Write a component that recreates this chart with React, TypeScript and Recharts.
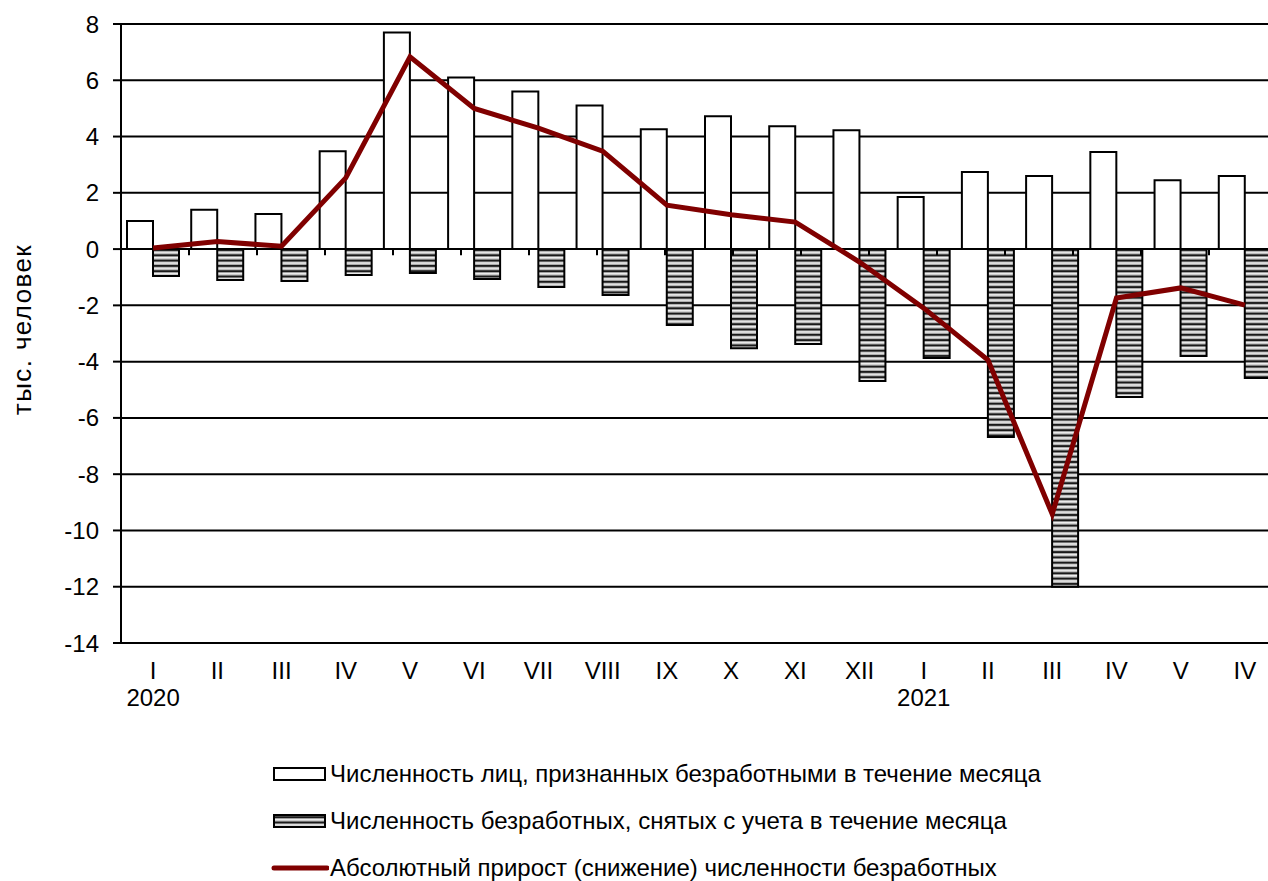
// Unemployment flow chart — registered / removed / net change, monthly 2020–2021
import {
  Bar,
  CartesianGrid,
  ComposedChart,
  Label,
  Line,
  ReferenceLine,
  XAxis,
  YAxis,
} from 'recharts';

const categories = ['I', 'II', 'III', 'IV', 'V', 'VI', 'VII', 'VIII', 'IX', 'X', 'XI', 'XII', 'I', 'II', 'III', 'IV', 'V', 'IV'];
const years = ['2020', '', '', '', '', '', '', '', '', '', '', '', '2021', '', '', '', '', ''];
const registered = [1.0, 1.4, 1.25, 3.48, 7.7, 6.1, 5.6, 5.1, 4.26, 4.72, 4.37, 4.22, 1.85, 2.74, 2.6, 3.45, 2.45, 2.6];
const removed = [-0.96, -1.1, -1.13, -0.92, -0.85, -1.06, -1.35, -1.63, -2.7, -3.52, -3.37, -4.69, -3.87, -6.68, -12.0, -5.26, -3.8, -4.58];
const netChange = [0.04, 0.27, 0.1, 2.53, 6.83, 5.0, 4.3, 3.48, 1.56, 1.22, 0.96, -0.46, -2.1, -3.94, -9.42, -1.74, -1.38, -1.99];
const yTicks = [-14, -12, -10, -8, -6, -4, -2, 0, 2, 4, 6, 8];

const legendNames = [
  'Численность лиц, признанных безработными в течение месяца',
  'Численность безработных, снятых с учета в течение месяца',
  'Абсолютный прирост (снижение) численности безработных',
];

const data = categories.map((c, i) => ({
  key: String(i),
  label: c,
  year: years[i],
  registered: registered[i],
  removed: removed[i],
  net: netChange[i],
}));

const boundaries = categories.slice(1).map((_, i) => i + 1);

const FONT = '"Liberation Sans", Arial, sans-serif';
const FS = 24;
const LINE_COLOR = '#800000';

function StripePattern({ id }: { id: string }) {
  return (
    <pattern id={id} patternUnits="userSpaceOnUse" width={8} height={5.3}>
      <rect x={0} y={0} width={8} height={5.3} fill="#a8a8a8" />
      <rect x={0} y={0} width={8} height={1.8} fill="#1a1a1a" />
      <rect x={0} y={2.7} width={8} height={1.4} fill="#f2f2f2" />
    </pattern>
  );
}

function XTick(props: any) {
  const { x, y, payload } = props;
  const i = Number(payload.value);
  return (
    <g>
      <text x={x} y={y + 36} textAnchor="middle" fontSize={FS} fill="#000" fontFamily={FONT}>
        {categories[i]}
      </text>
      {years[i] ? (
        <text x={x} y={y + 63} textAnchor="middle" fontSize={FS} fill="#000" fontFamily={FONT}>
          {years[i]}
        </text>
      ) : null}
    </g>
  );
}

function YLabel(props: any) {
  const vb = props.viewBox || { x: 0, y: 24, width: 121, height: 619 };
  const cx = vb.x + 22;
  const cy = vb.y + vb.height / 2 - 4;
  return (
    <text
      x={cx}
      y={cy}
      transform={`rotate(-90 ${cx} ${cy})`}
      textAnchor="middle"
      dominantBaseline="central"
      fontSize={26}
      letterSpacing={1.4}
      fill="#000"
      fontFamily={FONT}
    >
      тыс. человек
    </text>
  );
}

function LegendRow({ kind, text }: { kind: number; text: string }) {
  return (
    <div style={{ display: 'flex', alignItems: 'center', height: 47 }}>
      <svg width={58} height={20} style={{ marginRight: 1 }}>
        <defs>
          <StripePattern id="legendStripes" />
        </defs>
        {kind === 0 && <rect x={3} y={4} width={51} height={12} fill="#fff" stroke="#000" strokeWidth={2} />}
        {kind === 1 && <rect x={3} y={4} width={51} height={12} fill="url(#legendStripes)" stroke="#000" strokeWidth={2} />}
        {kind === 2 && <line x1={3} y1={10} x2={56} y2={10} stroke={LINE_COLOR} strokeWidth={5} strokeLinecap="round" />}
      </svg>
      <span style={{ fontSize: FS, lineHeight: '26px', color: '#000', fontFamily: FONT, whiteSpace: 'nowrap' }}>{text}</span>
    </div>
  );
}

export default function App() {
  return (
    <div
      style={{
        position: 'fixed',
        left: 0,
        top: 0,
        width: 1268,
        height: 881,
        overflow: 'hidden',
        background: '#fff',
        fontFamily: FONT,
      }}
    >
      <ComposedChart
        width={1290}
        height={881}
        data={data}
        margin={{ top: 24, right: 13, left: 0, bottom: 0 }}
        barGap={0}
        barSize={26}
      >
        <defs>
          <StripePattern id="barStripes" />
        </defs>
        <CartesianGrid horizontal vertical={false} stroke="#000" strokeWidth={2} />
        <XAxis
          dataKey="key"
          height={238}
          tick={<XTick />}
          tickLine={false}
          tickSize={0}
          tickMargin={0}
          axisLine={{ stroke: '#000', strokeWidth: 2 }}
          interval={0}
        />
        <XAxis xAxisId="b" type="number" domain={[0, categories.length]} hide />
        <YAxis
          domain={[-14, 8]}
          ticks={yTicks}
          width={121}
          tick={{ fontSize: FS, fill: '#000', fontFamily: FONT }}
          tickSize={8}
          tickMargin={14}
          tickLine={{ stroke: '#000', strokeWidth: 2 }}
          axisLine={{ stroke: '#000', strokeWidth: 2 }}
          interval={0}
        >
          <Label content={<YLabel />} />
        </YAxis>
        <Bar dataKey="registered" fill="#fff" stroke="#000" strokeWidth={2} isAnimationActive={false} />
        <Bar dataKey="removed" fill="url(#barStripes)" stroke="#000" strokeWidth={2} isAnimationActive={false} />
        {boundaries.map((b) => (
          <ReferenceLine
            key={b}
            xAxisId="b"
            segment={[{ x: b, y: 0 }, { x: b, y: -0.22 }]}
            stroke="#000"
            strokeWidth={2}
          />
        ))}
        <Line
          type="linear"
          dataKey="net"
          stroke={LINE_COLOR}
          strokeWidth={5}
          dot={false}
          activeDot={false}
          isAnimationActive={false}
        />
      </ComposedChart>
      <div style={{ position: 'absolute', left: 271, top: 750 }}>
        {legendNames.map((n, i) => (
          <LegendRow key={i} kind={i} text={n} />
        ))}
      </div>
    </div>
  );
}
